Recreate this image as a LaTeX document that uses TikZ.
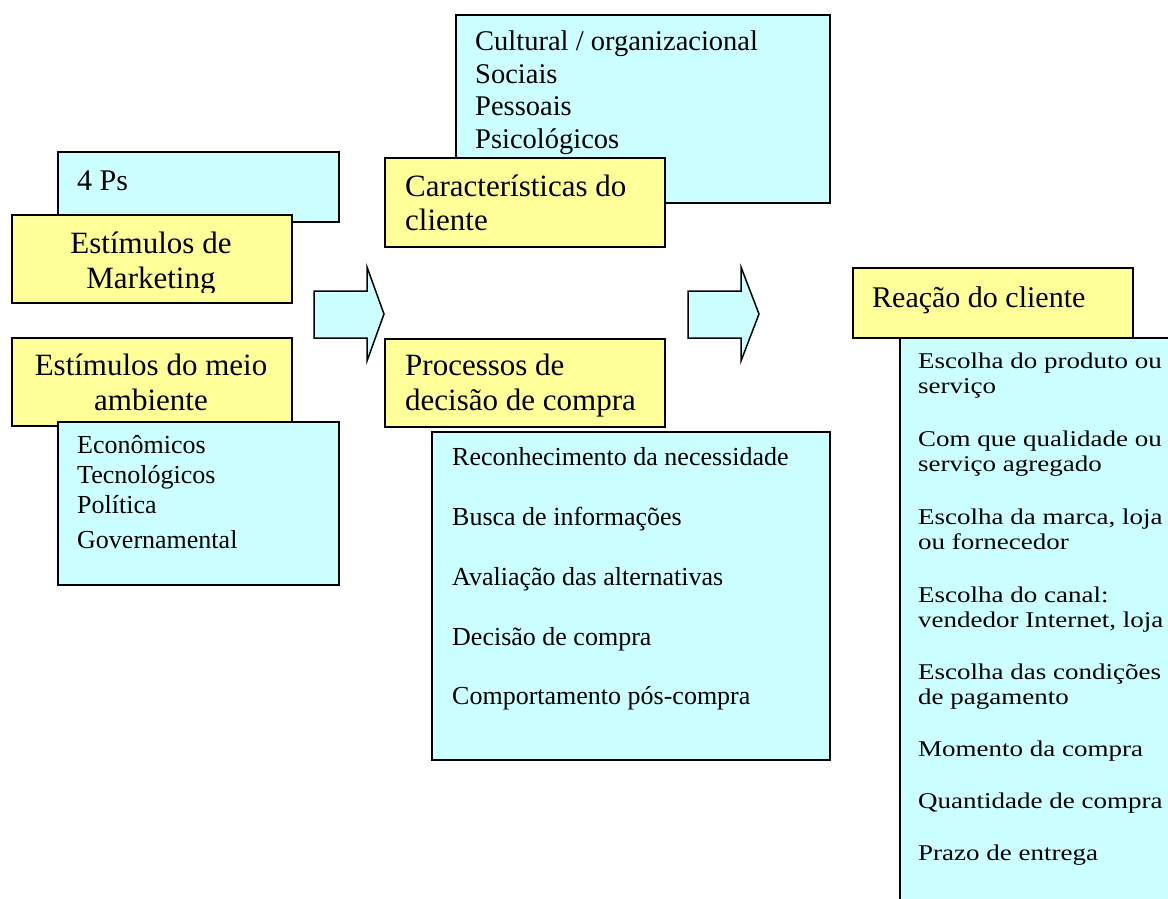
\documentclass[tikz,border=0pt]{standalone}
\usepackage{fontspec}
\setmainfont{Liberation Serif}
\newfontfamily\widefont[FakeStretch=1.2]{Liberation Serif}
\definecolor{cyanfill}{HTML}{CCFFFF}
\definecolor{yelfill}{HTML}{FFFF99}
\tikzset{
  boxc/.style={draw=black, line width=1.8pt, fill=cyanfill, inner sep=0pt, anchor=north west},
  boxy/.style={draw=black, line width=1.8pt, fill=yelfill, inner sep=0pt, anchor=north west},
  arrowshape/.style={draw=black, line width=1.5pt, fill=cyanfill, line join=miter},
  big/.style={inner sep=0pt, font=\fontsize{31}{35}\selectfont},
  mid/.style={inner sep=0pt, anchor=base west, font=\fontsize{28.5}{32}\selectfont},
  small/.style={inner sep=0pt, anchor=base west, font=\fontsize{26}{30}\selectfont},
  wide/.style={inner sep=0pt, anchor=base west, font=\widefont\fontsize{22.5}{25}\selectfont}
}
\begin{document}
\begin{tikzpicture}[x=1pt, y=-1pt]
\useasboundingbox (0,0) rectangle (1168,898);
\clip (0,0) rectangle (1168,898);
% left column
\node[boxc, minimum width=281pt, minimum height=70pt] (ps) at (57,151) {};
\node[boxy, minimum width=280pt, minimum height=88pt] (mkt) at (11,214) {};
\node[boxy, minimum width=280pt, minimum height=88pt] (amb) at (11,337) {};
\node[boxc, minimum width=281pt, minimum height=163pt] (eco) at (57,421) {};
% middle column
\node[boxc, minimum width=374pt, minimum height=188pt] (cult) at (455,14) {};
\node[boxy, minimum width=280pt, minimum height=89pt] (car) at (384,157) {};
\node[boxy, minimum width=280pt, minimum height=88pt] (proc) at (384,338) {};
\node[boxc, minimum width=398pt, minimum height=328pt] (plist) at (431,431) {};
% right column
\node[boxc, minimum width=290pt, minimum height=580pt] (rlist) at (899,337) {};
\node[boxy, minimum width=280pt, minimum height=70pt] (rea) at (852,267) {};
% arrows
\draw[arrowshape] (314,291) -- (367,291) -- (367,267) -- (384,314) -- (367,361) -- (367,338) -- (314,338) -- cycle;
\draw[arrowshape] (688,291) -- (741,291) -- (741,267) -- (759,314) -- (741,361) -- (741,338) -- (688,338) -- cycle;
% texts left
\node[inner sep=0pt, anchor=base west, font=\fontsize{30}{34}\selectfont] (tps) at (77,190) {4 Ps};
\node[big, anchor=base] (tmk1) at (151,253) {Estímulos de};
\begin{scope}
\clip (12,215) rectangle (290,292);
\node[big, anchor=base] (tmk2) at (151,288) {Marketing};
\end{scope}
\node[big, anchor=base] (tam1) at (151,375) {Estímulos do meio};
\node[big, anchor=base] (tam2) at (151,410) {ambiente};
\node[small] (te1) at (77,453) {Econômicos};
\node[small] (te2) at (77,483) {Tecnológicos};
\node[small] (te3) at (77,513) {Política};
\node[small] (te4) at (77,548) {Governamental};
% texts middle
\node[mid] (tc1) at (475,50) {Cultural / organizacional};
\node[mid] (tc2) at (475,83) {Sociais};
\node[mid] (tc3) at (475,115) {Pessoais};
\node[mid] (tc4) at (475,148) {Psicológicos};
\node[big, anchor=base west] (tca1) at (405,196) {Características do};
\node[big, anchor=base west] (tca2) at (405,230) {cliente};
\node[big, anchor=base west] (tpr1) at (405,375) {Processos de};
\node[big, anchor=base west] (tpr2) at (405,410) {decisão de compra};
\node[small] (tp1) at (452,465) {Reconhecimento da necessidade};
\node[small] (tp2) at (452,525) {Busca de informações};
\node[small] (tp3) at (452,585) {Avaliação das alternativas};
\node[small] (tp4) at (452,645) {Decisão de compra};
\node[small] (tp5) at (452,704) {Comportamento pós-compra};
% texts right
\node[inner sep=0pt, anchor=base west, font=\fontsize{30}{34}\selectfont] (trea) at (872,307) {Reação do cliente};
\node[wide] (tr1a) at (918,368) {Escolha do produto ou};
\node[wide] (tr1b) at (918,393) {serviço};
\node[wide] (tr2a) at (918,446) {Com que qualidade ou};
\node[wide] (tr2b) at (918,471) {serviço agregado};
\node[wide] (tr3a) at (918,524) {Escolha da marca, loja};
\node[wide] (tr3b) at (918,549) {ou fornecedor};
\node[wide] (tr4a) at (918,602) {Escolha do canal:};
\node[wide] (tr4b) at (918,627) {vendedor Internet, loja};
\node[wide] (tr5a) at (918,679) {Escolha das condições};
\node[wide] (tr5b) at (918,704) {de pagamento};
\node[wide] (tr6) at (918,756) {Momento da compra};
\node[wide] (tr7) at (918,808) {Quantidade de compra};
\node[wide] (tr8) at (918,860) {Prazo de entrega};
\end{tikzpicture}
\end{document}
